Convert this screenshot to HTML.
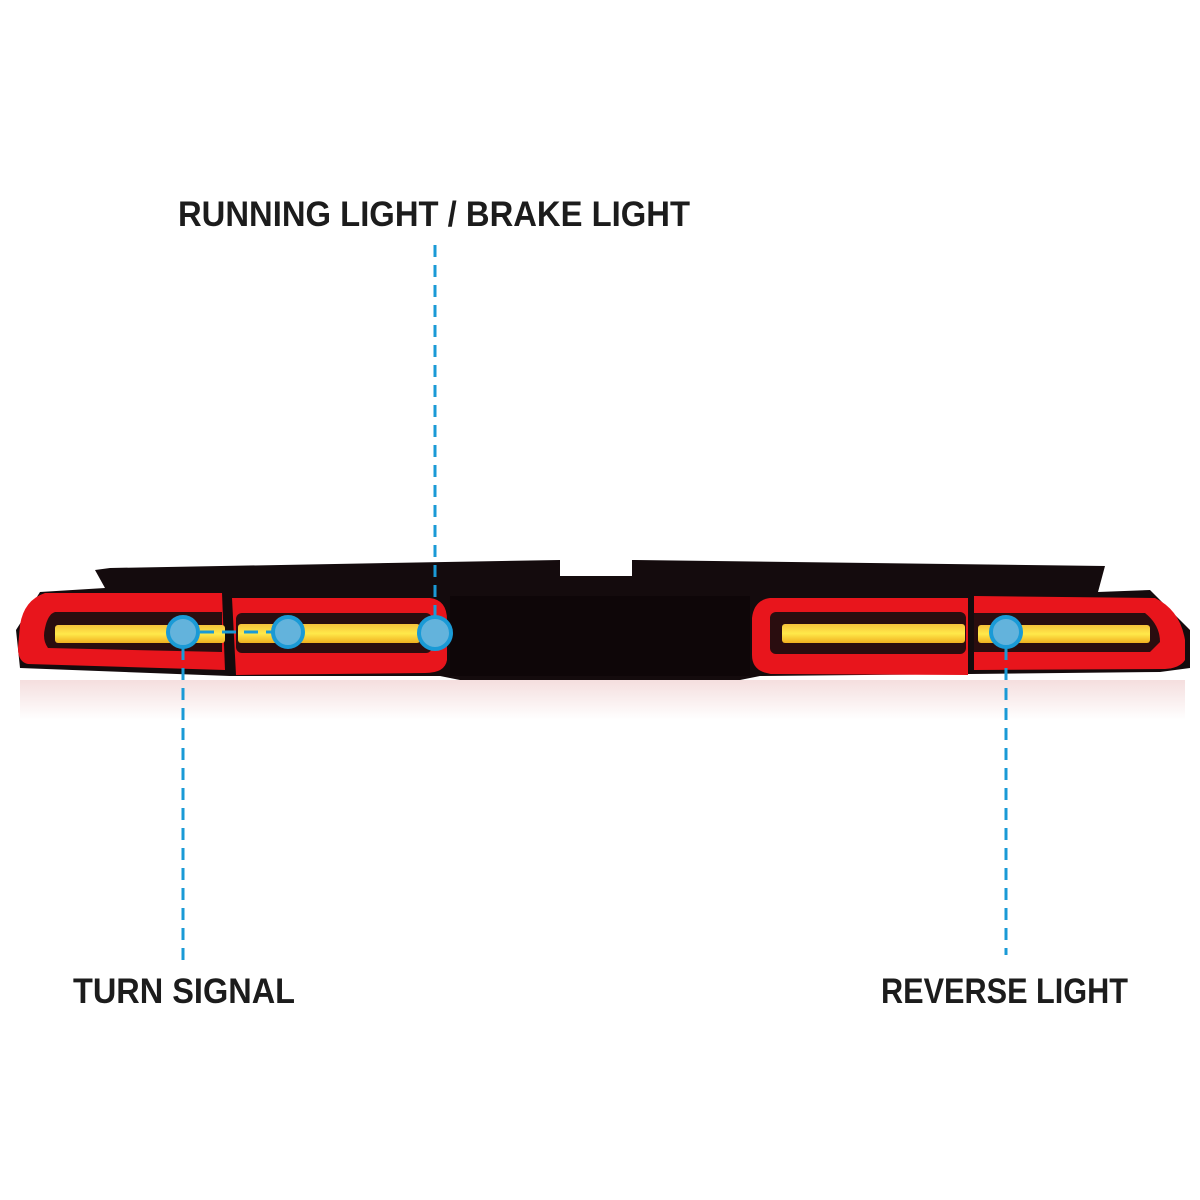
<!DOCTYPE html>
<html><head><style>html,body{margin:0;padding:0;background:#fff}svg{display:block}</style></head>
<body>
<svg width="1200" height="1200" viewBox="0 0 1200 1200" xmlns="http://www.w3.org/2000/svg">
<defs>
<linearGradient id="refl" x1="0" y1="0" x2="0" y2="1">
<stop offset="0" stop-color="#f2d6d6"/><stop offset="1" stop-color="#fff"/>
</linearGradient>
<linearGradient id="yel" x1="0" y1="0" x2="0" y2="1">
<stop offset="0" stop-color="#f7c23a"/><stop offset="0.5" stop-color="#ffe94a"/><stop offset="1" stop-color="#f0b020"/>
</linearGradient>
</defs>
<!-- reflection -->
<rect x="20" y="680" width="1165" height="40" fill="url(#refl)" opacity="0.8"/>
<!-- housing back -->
<path d="M95 570 L110 568 L560 560 L560 576 L632 576 L632 560 L1105 566 L1098 592 L1150 590 L1190 630 L1190 668 L1160 672 L970 674 L760 676 L740 680 L460 680 L440 676 L230 676 L20 668 L16 630 L40 592 L105 588 Z" fill="#140b0d"/>
<!-- left outer lamp -->
<path d="M45 593 L222 593 L225 670 L28 664 Q18 662 18 648 L20 625 Q24 600 45 593 Z" fill="#e8151c"/>
<path d="M55 612 L222 612 L222 652 L48 648 Q42 640 45 628 Q48 614 55 612 Z" fill="#2a0d0f"/>
<rect x="55" y="625" width="170" height="18" rx="3" fill="url(#yel)"/>
<!-- left inner lamp -->
<path d="M232 598 L430 598 Q447 600 447 620 L447 660 Q445 673 425 673 L236 675 Z" fill="#e8151c"/>
<rect x="236" y="613" width="196" height="40" rx="6" fill="#2a0d0f"/>
<rect x="238" y="624" width="182" height="19" rx="3" fill="url(#yel)"/>
<!-- center dark panel -->
<rect x="450" y="596" width="300" height="80" fill="#0e0608"/>
<!-- right inner lamp -->
<path d="M770 598 L968 598 L968 675 L772 674 Q752 672 752 655 L752 618 Q754 600 770 598 Z" fill="#e8151c"/>
<rect x="770" y="612" width="196" height="42" rx="6" fill="#2a0d0f"/>
<rect x="782" y="624" width="183" height="19" rx="3" fill="url(#yel)"/>
<!-- right outer lamp -->
<path d="M974 596 L1155 598 Q1180 610 1185 640 L1185 660 Q1180 668 1165 669 L974 670 Z" fill="#e8151c"/>
<path d="M974 613 L1145 613 Q1160 625 1160 642 L1150 652 L974 652 Z" fill="#2a0d0f"/>
<rect x="978" y="625" width="172" height="18" rx="3" fill="url(#yel)"/>
<!-- dashed connectors -->
<g stroke="#1a9ad6" stroke-width="3" stroke-dasharray="12,8" fill="none">
<line x1="435" y1="245" x2="435" y2="620"/>
<line x1="183" y1="648" x2="183" y2="960"/>
<line x1="1006" y1="648" x2="1006" y2="955"/>
<line x1="200" y1="632" x2="272" y2="632" stroke-dasharray="14,8"/>
</g>
<g fill="#63b3dc" stroke="#1a9ad6" stroke-width="4">
<circle cx="183" cy="632" r="15"/>
<circle cx="288" cy="632" r="15"/>
<circle cx="435" cy="633" r="16"/>
<circle cx="1006" cy="632" r="15"/>
</g>
<g font-family="Liberation Sans, sans-serif" font-weight="bold" fill="#1c1c1c" font-size="35">
<text x="178" y="226" textLength="512" lengthAdjust="spacingAndGlyphs">RUNNING LIGHT / BRAKE LIGHT</text>
<text x="73" y="1003" textLength="222" lengthAdjust="spacingAndGlyphs">TURN SIGNAL</text>
<text x="881" y="1003" textLength="247" lengthAdjust="spacingAndGlyphs">REVERSE LIGHT</text>
</g>
</svg>
</body></html>
